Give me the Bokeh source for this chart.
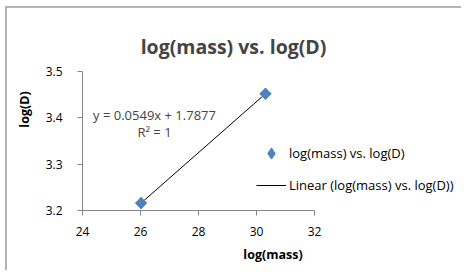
import numpy as np
from bokeh.plotting import figure
from bokeh.models import Range1d, FixedTicker, Label, Legend, LegendItem
from bokeh.embed import file_html
from bokeh.resources import INLINE

# data
log_mass = [26.02, 30.31]
log_d = [3.216, 3.452]
x_ticks = [24, 26, 28, 30, 32]
y_ticks = [3.2, 3.3, 3.4, 3.5]
title_text = "log(mass) vs. log(D)"
series_name = "log(mass) vs. log(D)"
trend_name = "Linear (log(mass) vs. log(D))"
equation_text = "y = 0.0549x + 1.7877"
r2_text = "R² = 1"

FONT = "Open Sans"
AXIS_COLOR = "#868686"
POINT_COLOR = "#4F81BD"

# geometry (pixels): canvas origin at page (7, 8); axes span 232 x 139 px
OX, OY = 7, 8
W, H = 456, 264
AX_LEFT, AX_BOTTOM = 82, 210          # page pixels of the axes corner
left_border = AX_LEFT - OX
bottom_border = OY + H - AX_BOTTOM
axis_w, axis_h = 232, 139
fw, fh = W - left_border, H - bottom_border
x0, x1 = x_ticks[0], x_ticks[-1]
y0, y1 = y_ticks[0], y_ticks[-1]
x_end = x0 + (x1 - x0) * fw / axis_w
y_end = y0 + (y1 - y0) * fh / axis_h

p = figure(width=W, height=H, output_backend="svg", toolbar_location=None, title=None,
           x_range=Range1d(x0, x_end), y_range=Range1d(y0, y_end),
           min_border_left=left_border, min_border_right=0,
           min_border_top=0, min_border_bottom=bottom_border)
p.margin = (6, 0, 0, 5)
p.styles = {"border-left": "2px solid #b4b4b4", "border-top": "2px solid #b4b4b4"}
p.outline_line_color = None
p.xgrid.visible = False
p.ygrid.visible = False

for ax in (p.xaxis[0], p.yaxis[0]):
    ax.axis_line_color = AXIS_COLOR
    ax.major_tick_line_color = AXIS_COLOR
    ax.minor_tick_line_color = None
    ax.major_tick_in = 0
    ax.major_tick_out = 5
    ax.major_label_text_font = FONT
    ax.major_label_text_font_size = "12px"
    ax.major_label_text_color = "#000000"
    ax.axis_label_text_font = FONT
    ax.axis_label_text_font_size = "12.5px"
    ax.axis_label_text_font_style = "bold"
    ax.axis_label_text_color = "#000000"

p.xaxis[0].bounds = (x0, x1)
p.yaxis[0].bounds = (y0, y1)
p.xaxis[0].ticker = FixedTicker(ticks=x_ticks)
p.yaxis[0].ticker = FixedTicker(ticks=y_ticks)
p.xaxis[0].axis_label = "log(mass)"
p.yaxis[0].axis_label = "log(D)"
p.xaxis[0].major_label_standoff = 11
p.yaxis[0].major_label_standoff = 15
p.xaxis[0].axis_label_standoff = 7
p.yaxis[0].axis_label_standoff = 10

# trendline from least-squares fit
slope, intercept = np.polyfit(log_mass, log_d, 1)
tx = [min(log_mass), max(log_mass)]
ty = [slope * v + intercept for v in tx]

r_leg = p.scatter(log_mass, log_d, marker="diamond", size=11,
                  fill_color=POINT_COLOR, line_color=POINT_COLOR)
r_line = p.line(tx, ty, line_color="#000000", line_width=1)
p.scatter(log_mass, log_d, marker="square", angle=np.pi / 4, size=8,
          fill_color=POINT_COLOR, line_color=POINT_COLOR)

leg = Legend(items=[LegendItem(label=series_name, renderers=[r_leg]),
                    LegendItem(label=trend_name, renderers=[r_line])])
leg.location = (174, 11)
leg.padding = 0
leg.margin = 0
leg.spacing = 4
leg.label_height = 28
leg.glyph_height = 28
leg.glyph_width = 30
leg.label_standoff = 3
leg.border_line_color = None
leg.background_fill_alpha = 0
leg.label_text_font = FONT
leg.label_text_font_size = "13px"
leg.label_text_color = "#000000"
p.add_layout(leg)

def px_to_x(px):
    return x0 + (px - AX_LEFT) * (x1 - x0) / axis_w

def py_to_y(py):
    return y0 + (AX_BOTTOM - py) * (y1 - y0) / axis_h

p.add_layout(Label(x=px_to_x(233), y=py_to_y(46), text=title_text, text_font=FONT,
                   text_font_size="19.5px", text_font_style="bold",
                   text_align="center", text_baseline="middle"))
p.add_layout(Label(x=px_to_x(154), y=py_to_y(114), text=equation_text, text_font=FONT,
                   text_font_size="13px", text_align="center", text_baseline="middle"))
p.add_layout(Label(x=px_to_x(154), y=py_to_y(131), text=r2_text, text_font=FONT,
                   text_font_size="13px", text_align="center", text_baseline="middle"))

open("out.html", "w").write(file_html(p, INLINE))
